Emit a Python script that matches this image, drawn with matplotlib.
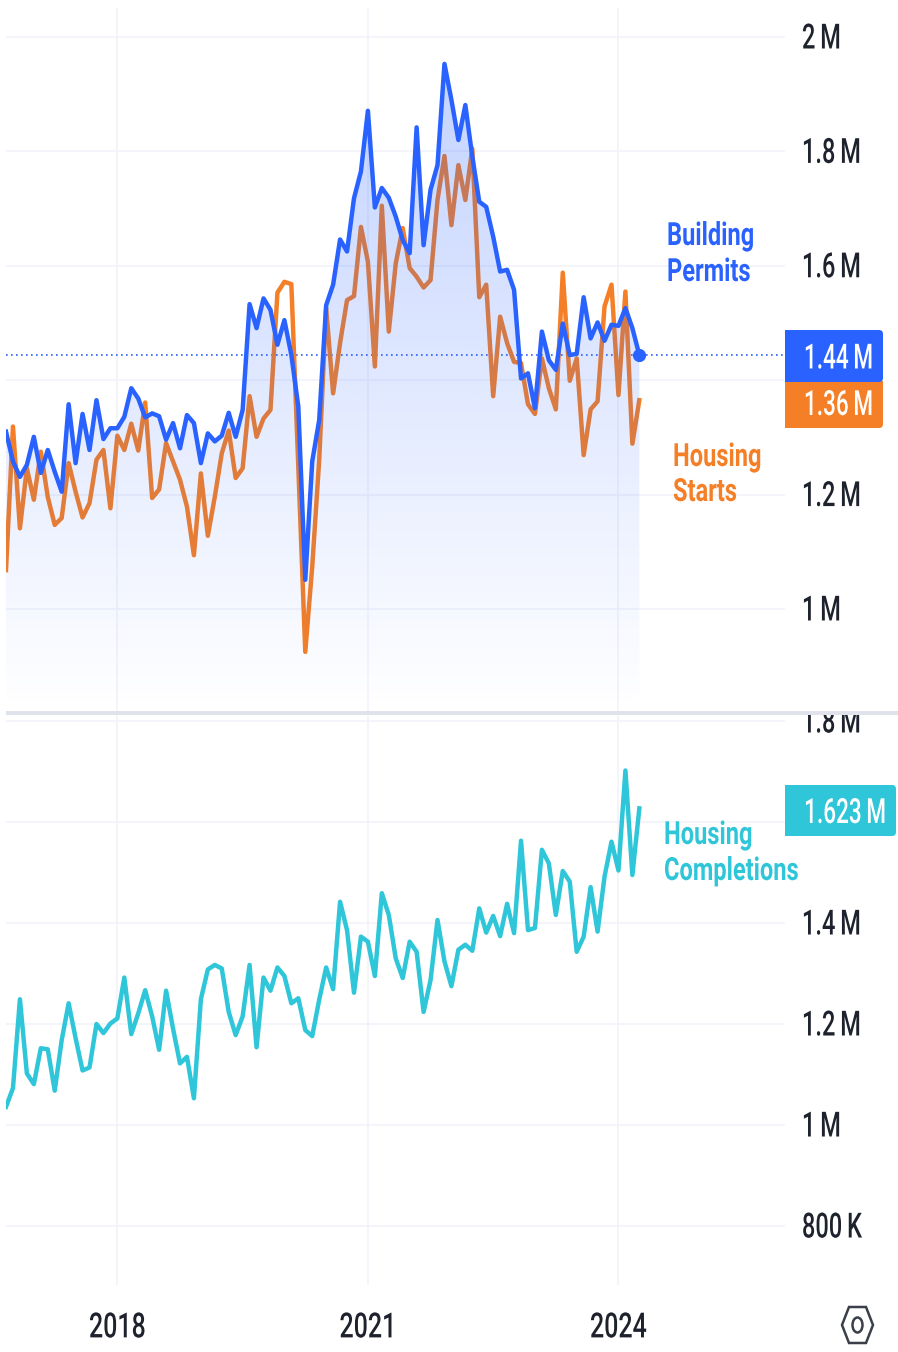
import numpy as np
import matplotlib
matplotlib.use("Agg")
import matplotlib.pyplot as plt
from matplotlib.patches import FancyBboxPatch, Rectangle, Polygon, Ellipse
from matplotlib.patheffects import AbstractPathEffect
from matplotlib.transforms import Affine2D

plt.rcParams['font.family'] = ['Roboto', 'DejaVu Sans']

# Monthly data, millions of units, Sep 2016 - Apr 2024
building_permits = [1.310,1.258,1.231,1.252,1.301,1.238,1.278,1.240,1.205,1.358,1.255,1.341,1.278,1.365,1.297,1.316,
 1.316,1.336,1.386,1.368,1.335,1.342,1.337,1.296,1.325,1.281,1.339,1.325,1.255,1.307,1.293,1.303,1.343,1.301,1.348,
 1.533,1.491,1.543,1.523,1.462,1.505,1.444,1.354,1.051,1.258,1.330,1.531,1.567,1.646,1.625,1.718,1.765,1.871,1.702,
 1.736,1.719,1.686,1.645,1.622,1.842,1.636,1.733,1.776,1.953,1.890,1.820,1.881,1.791,1.712,1.703,1.651,1.590,1.593,
 1.558,1.403,1.412,1.351,1.485,1.435,1.418,1.499,1.444,1.446,1.545,1.473,1.501,1.469,1.497,1.495,1.526,1.491,1.444]
housing_starts = [1.068,1.319,1.141,1.246,1.191,1.275,1.196,1.147,1.159,1.255,1.205,1.160,1.185,1.261,1.278,1.176,
 1.303,1.278,1.324,1.277,1.361,1.194,1.209,1.290,1.258,1.226,1.179,1.094,1.237,1.128,1.196,1.272,1.312,1.229,1.246,
 1.372,1.301,1.333,1.348,1.553,1.572,1.568,1.249,0.925,1.074,1.260,1.526,1.377,1.465,1.540,1.547,1.668,1.607,1.424,
 1.705,1.485,1.604,1.666,1.596,1.581,1.562,1.575,1.715,1.792,1.671,1.776,1.715,1.805,1.545,1.567,1.372,1.511,1.465,
 1.432,1.430,1.358,1.341,1.438,1.386,1.349,1.588,1.399,1.438,1.269,1.349,1.363,1.529,1.567,1.374,1.555,1.289,1.365]
housing_completions = [1.036,1.073,1.249,1.102,1.081,1.152,1.150,1.068,1.168,1.241,1.172,1.108,1.114,1.200,1.182,1.201,
 1.211,1.292,1.180,1.221,1.267,1.215,1.149,1.266,1.191,1.122,1.135,1.053,1.249,1.308,1.317,1.310,1.224,1.178,1.215,
 1.317,1.154,1.292,1.266,1.312,1.295,1.241,1.251,1.188,1.176,1.248,1.312,1.269,1.442,1.386,1.262,1.373,1.363,1.295,
 1.459,1.416,1.330,1.291,1.363,1.343,1.224,1.287,1.406,1.324,1.275,1.347,1.357,1.345,1.429,1.381,1.414,1.374,1.438,
 1.380,1.563,1.386,1.390,1.545,1.518,1.416,1.503,1.482,1.343,1.373,1.471,1.383,1.492,1.561,1.504,1.702,1.495,1.627]
months = list(range(92))
year_ticks = [16, 52, 88]
year_labels = ['2018', '2021', '2024']
top_ticks = [1.0, 1.2, 1.4, 1.6, 1.8, 2.0]
top_labels = ['1\u2009M', '1.2\u2009M', '', '1.6\u2009M', '1.8\u2009M', '2\u2009M']
low_ticks = [0.8, 1.0, 1.2, 1.4, 1.6, 1.8]
low_labels = ['800\u2009K', '1\u2009M', '1.2\u2009M', '1.4\u2009M', '', '1.8\u2009M']

BLUE, ORANGE, TEAL = '#2962FF', '#F57F26', '#2EC6D8'
TXT, GRID, W, H = '#1E222D', '#F0F3FA', 898, 1352
FS = 25
LW = 3.2
SX = 0.68


class Squeeze(AbstractPathEffect):
    """Narrow the glyphs of a real text horizontally about a display x, with a small lift."""
    def __init__(self, x0, sx=SX, dy=0):
        super().__init__()
        self.x0, self.sx, self.dy = x0, sx, dy

    def draw_path(self, renderer, gc, tpath, affine, rgbFace=None):
        t = affine + Affine2D().translate(-self.x0, 0).scale(self.sx, 1).translate(self.x0, self.dy)
        renderer.draw_path(gc, tpath, t, rgbFace)


fig = plt.figure(figsize=(W/100, H/100), dpi=100, facecolor='white')


def mkax(top, bottom):
    return fig.add_axes([6/W, 1-bottom/H, 779/W, (bottom-top)/H])


ax1, ax2 = mkax(8, 712), mkax(715, 1285)

for ax, tk, lb, yl in [(ax1, top_ticks, top_labels, (0.8199, 2.0507)),
                       (ax2, low_ticks, low_labels, (0.6832, 1.8119))]:
    ax.set_xlim(0, 111.93)
    ax.set_ylim(*yl)
    ax.yaxis.tick_right()
    ax.set_yticks(tk, lb)
    ax.set_xticks(year_ticks, year_labels if ax is ax2 else [''] * 3)
    ax.tick_params(length=0, labelsize=FS, labelcolor=TXT)
    ax.tick_params(axis='y', pad=12.2)
    ax.tick_params(axis='x', pad=19)
    ax.grid(True, color=GRID, lw=1.1)
    ax.set_axisbelow(True)
    for s in ax.spines.values():
        s.set_visible(False)
    for t in ax.get_yticklabels():
        t.set_path_effects([Squeeze(802, SX, 1.5)])
        t.set_fontweight('medium')

for t, m in zip(ax2.get_xticklabels(), year_ticks):
    t.set_path_effects([Squeeze(6 + 6.96 * m, 0.72)])
    t.set_fontweight('medium')

# Top pane
ax1.plot(months, housing_starts, color=ORANGE, lw=LW, zorder=3, solid_joinstyle='round')
poly = ax1.fill_between(months, building_permits, 0.8199, color='none', lw=0, zorder=4)
grad = np.zeros((256, 2, 4))
grad[..., :3] = matplotlib.colors.to_rgb(BLUE)
grad[..., 3] = np.linspace(0.28, 0.0, 256)[:, None]
im = ax1.imshow(grad, extent=[0, 91, 0.8199, max(building_permits)], aspect='auto',
                origin='upper', zorder=4, interpolation='bilinear')
im.set_clip_path(poly.get_paths()[0], transform=ax1.transData)
ax1.set_xlim(0, 111.93)
ax1.set_ylim(0.8199, 2.0507)
ax1.plot(months, building_permits, color=BLUE, lw=LW, zorder=5, solid_joinstyle='round')
ax1.axhline(building_permits[-1], color=BLUE, lw=1.2, ls=(0, (1, 2)), zorder=2)
ax1.plot(months[-1], building_permits[-1], 'o', color=BLUE, ms=9.5, mew=0, zorder=6)

# Bottom pane
ax2.plot(months, housing_completions, color=TEAL, lw=LW, zorder=3, solid_joinstyle='round')

# Pixel-space overlay for pane divider, price tags, captions and icon
ov = fig.add_axes([0, 0, 1, 1], facecolor='none')
ov.set_xlim(0, W)
ov.set_ylim(H, 0)
ov.axis('off')
ov.add_patch(Rectangle((786, 698), 112, 13, fc='white', ec='none'))
ov.add_patch(Rectangle((6, 711), 892, 4, fc='#E0E3EB', ec='none'))


def tag(x0, x1, y0, y1, col, txt, sq_top, dy):
    ov.add_patch(FancyBboxPatch((x0, y0), x1-x0, y1-y0, boxstyle='round,pad=0,rounding_size=4',
                                fc=col, ec='none'))
    ov.add_patch(Rectangle((x0, y0), 10, y1-y0, fc=col, ec='none'))
    if sq_top:
        ov.add_patch(Rectangle((x0, y0), x1-x0, 6, fc=col, ec='none'))
    right = x1 - 10
    ov.text(right, (y0+y1)/2 + dy, txt, color='white', fontsize=FS, fontweight='medium',
            ha='right', va='center', path_effects=[Squeeze(right, 0.65)])


tag(785, 883, 381, 428, ORANGE, '1.36\u2009M', True, 1)
tag(785, 883, 330, 382, BLUE, '1.44\u2009M', False, 3)
tag(785, 896, 785, 836, TEAL, '1.623\u2009M', False, 3)

for x, y, s, c in [(667, 236, 'Building', BLUE), (667, 272, 'Permits', BLUE),
                   (673, 457, 'Housing', ORANGE), (673, 492, 'Starts', ORANGE),
                   (664, 835, 'Housing', TEAL), (664, 871, 'Completions', TEAL)]:
    ov.text(x, y, s, color=c, fontsize=23, fontweight='bold', ha='left', va='center',
            path_effects=[Squeeze(x, 0.74)])

ov.add_patch(Polygon([(842, 1325), (849, 1307), (866, 1307), (873, 1325), (866, 1343), (849, 1343)],
                     closed=True, fc='none', ec='#3B3F4A', lw=1.8))
ov.add_patch(Ellipse((857.5, 1325), 10, 15, fc='none', ec='#3B3F4A', lw=1.8))

fig.savefig('out.png', dpi=100)
